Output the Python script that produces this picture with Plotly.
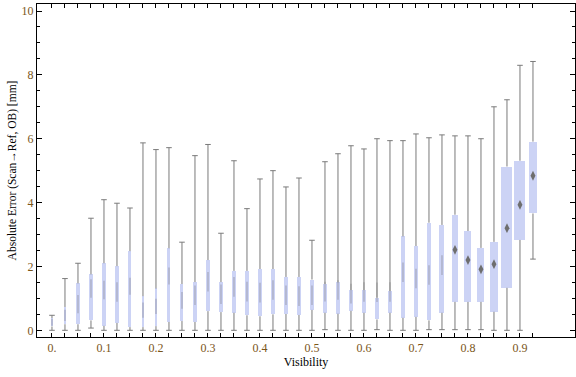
import plotly.graph_objects as go

# ---- data ----
visibility = [0.0, 0.025, 0.05, 0.075, 0.1, 0.125, 0.15, 0.175, 0.2, 0.225,
              0.25, 0.275, 0.3, 0.325, 0.35, 0.375, 0.4, 0.425, 0.45, 0.475,
              0.5, 0.525, 0.55, 0.575, 0.6, 0.625, 0.65, 0.675, 0.7, 0.725,
              0.75, 0.775, 0.8, 0.825, 0.85, 0.875, 0.9, 0.925]
err_min = [0.0, 0.0, 0.0, 0.07, 0.0, 0.0, 0.0, 0.0, 0.0, 0.0,
           0.0, 0.0, 0.0, 0.0, 0.0, 0.0, 0.0, 0.0, 0.0, 0.0,
           0.0, 0.02, 0.0, 0.0, 0.0, 0.02, 0.0, 0.0, 0.0, 0.02,
           0.02, 0.02, 0.02, 0.02, 0.0, 0.0, 0.0, 2.23]
err_q1 = [0.12, 0.19, 0.19, 0.31, 0.14, 0.23, 0.10, 0.10, 0.13, 0.26,
          0.29, 0.26, 0.60, 0.57, 0.55, 0.47, 0.44, 0.50, 0.51, 0.48,
          0.64, 0.55, 0.52, 0.61, 0.55, 0.34, 0.55, 0.39, 0.42, 0.31,
          0.55, 0.89, 0.89, 0.89, 0.58, 1.33, 2.83, 3.66]
err_med = [0.25, 0.47, 0.82, 1.31, 1.26, 1.20, 1.38, 0.63, 0.75, 1.70,
           0.94, 1.10, 1.52, 1.13, 1.36, 1.21, 1.18, 1.26, 1.10, 1.07,
           1.10, 1.21, 1.26, 1.15, 1.20, 1.19, 1.20, 1.82, 1.62, 1.73,
           2.04, 2.52, 2.20, 1.91, 2.07, 3.20, 3.93, 4.84]
err_q3 = [0.38, 0.73, 1.47, 1.75, 2.10, 2.01, 2.48, 1.07, 1.31, 2.57,
          1.45, 1.51, 2.20, 1.51, 1.86, 1.86, 1.92, 1.92, 1.67, 1.67,
          1.59, 1.45, 1.50, 1.26, 1.26, 1.02, 1.23, 2.94, 2.64, 3.37,
          3.30, 3.62, 3.11, 2.58, 2.77, 5.13, 5.31, 5.91]
err_max = [0.47, 1.62, 2.10, 3.51, 4.09, 3.98, 3.83, 5.87, 5.66, 5.72,
           2.76, 5.47, 5.82, 3.04, 5.31, 3.81, 4.74, 5.00, 4.49, 4.77,
           2.82, 5.28, 5.53, 5.78, 5.68, 6.00, 5.94, 5.94, 6.15, 6.03,
           6.12, 6.09, 6.09, 6.00, 7.00, 7.22, 8.30, 8.42]
x_tick_labels = ["0.", "0.1", "0.2", "0.3", "0.4", "0.5", "0.6", "0.7", "0.8", "0.9"]
y_tick_labels = ["0", "2", "4", "6", "8", "10"]

# ---- styles ----
box_px = [1.2, 2, 3.3, 3.3, 3.3, 3.6, 3, 2.7, 2.7, 3,
          3, 4, 4, 4, 4, 4, 4, 4, 4, 4,
          4, 4, 4, 4, 4, 4, 4, 4, 4, 4.7,
          5, 6, 7, 7, 8, 11, 11, 8]
PX_PER_UNIT = 520.0
box_w = [w / PX_PER_UNIT for w in box_px]
FILL = "#ccd3f5"
GRAY = "#7a7a7a"
LABEL = "#7a5518"
FONT = "Liberation Serif"

fig = go.Figure()

# boxes
fig.add_trace(go.Bar(
    x=visibility,
    base=err_q1,
    y=[b - a for a, b in zip(err_q1, err_q3)],
    width=box_w,
    marker=dict(color=FILL, line=dict(width=0)),
    hoverinfo="skip", showlegend=False,
))

# whiskers
wx, wy = [], []
for x, lo, a, b, hi in zip(visibility, err_min, err_q1, err_q3, err_max):
    wx += [x, x, None]
    wy += [b, hi, None]
    if a > lo:
        wx += [x, x, None]
        wy += [lo, a, None]
fig.add_trace(go.Scatter(x=wx, y=wy, mode="lines",
                         line=dict(color=GRAY, width=1),
                         hoverinfo="skip", showlegend=False))
# whisker caps
fig.add_trace(go.Scatter(
    x=visibility + visibility, y=err_min + err_max, mode="markers",
    marker=dict(symbol="line-ew", size=4, line=dict(color=GRAY, width=1)),
    hoverinfo="skip", showlegend=False))

# median markers: narrow boxes show a thin vertical smear, wide boxes a diamond
narrow = [i for i, w in enumerate(box_px) if w < 5.5]
wide = [i for i, w in enumerate(box_px) if w >= 5.5]
fig.add_trace(go.Scatter(
    x=[visibility[i] for i in narrow], y=[err_med[i] for i in narrow],
    mode="markers",
    marker=dict(symbol="line-ns", size=[min(14, 4 * box_px[i]) for i in narrow],
                line=dict(color="rgba(110,110,110,0.45)", width=1.6)),
    hoverinfo="skip", showlegend=False))
fig.add_trace(go.Scatter(
    x=[visibility[i] for i in wide], y=[err_med[i] for i in wide],
    mode="markers",
    marker=dict(symbol="diamond-tall", size=7, color="#6e6e6e", line=dict(width=0)),
    hoverinfo="skip", showlegend=False))

x_label_vals = [0.0, 0.1, 0.2, 0.3, 0.4, 0.5, 0.6, 0.7, 0.8, 0.9]
tick_text = []
for v in visibility:
    match = [lab for lv, lab in zip(x_label_vals, x_tick_labels) if abs(lv - v) < 1e-9]
    tick_text.append(match[0] if match else "")

fig.update_layout(
    width=576, height=377,
    margin=dict(l=37, r=1, t=4, b=40, autoexpand=False),
    paper_bgcolor="white", plot_bgcolor="white",
    font=dict(family=FONT, size=12, color="black"),
    showlegend=False,
    bargap=0,
)
fig.update_xaxes(
    automargin=False,
    range=[-0.0288, 1.0058], showgrid=False, zeroline=False,
    showline=True, linecolor="black", linewidth=1, mirror="ticks",
    tickmode="array", tickvals=visibility, ticktext=tick_text,
    ticks="inside", ticklen=4, tickcolor="black", tickwidth=1,
    tickfont=dict(family=FONT, size=12, color=LABEL),
    title=dict(text="Visibility", font=dict(family=FONT, size=12, color="black"), standoff=3),
)
fig.update_yaxes(
    automargin=False,
    range=[-0.21, 10.22], showgrid=False, zeroline=False,
    showline=True, linecolor="black", linewidth=1, mirror="ticks",
    tickmode="array", tickvals=[0, 2, 4, 6, 8, 10], ticktext=y_tick_labels,
    ticks="inside", ticklen=5, tickcolor="black", tickwidth=1,
    minor=dict(dtick=0.5, ticks="inside", ticklen=3, tickcolor="black", showgrid=False),
    tickfont=dict(family=FONT, size=12, color=LABEL),
    title=dict(text="Absolute Error (Scan\u2192Ref, OB) [mm]",
               font=dict(family=FONT, size=11.5, color="black"), standoff=2),
)

fig.write_html("out.html",
               config={"displayModeBar": False},
               post_script="document.body.style.margin='0px';document.body.style.overflow='hidden';")
